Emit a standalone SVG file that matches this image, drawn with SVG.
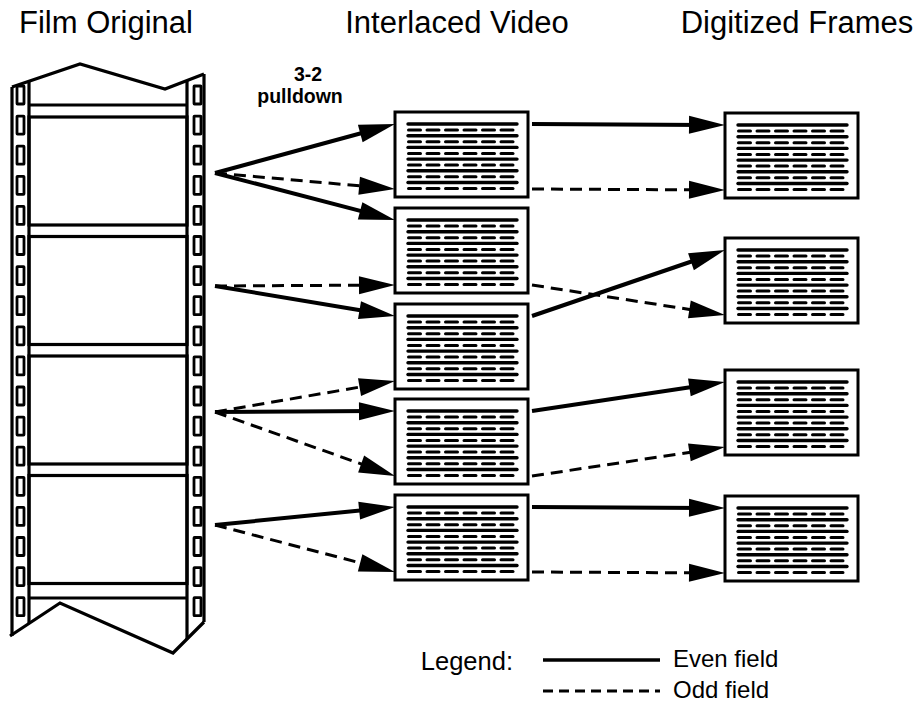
<svg xmlns="http://www.w3.org/2000/svg" xmlns:xlink="http://www.w3.org/1999/xlink" width="920" height="704" viewBox="0 0 920 704">
<style>
text{font-family:"Liberation Sans",Arial,sans-serif;fill:#000}
.title{font-size:31px;text-anchor:middle}
.lbl{font-size:19.5px;font-weight:bold;text-anchor:middle}
.leg{font-size:24px}
.strip{fill:none;stroke:#000;stroke-width:3.2;stroke-linejoin:miter}
.hole{fill:#fff;stroke:#000;stroke-width:2.8}
.even{fill:none;stroke:#000;stroke-width:4}
.odd{fill:none;stroke:#000;stroke-width:3;stroke-dasharray:12 7}
.scr{fill:#fff;stroke:#000;stroke-width:3}
.sl{stroke:#000;stroke-width:3.4;stroke-linecap:round}
.dl{stroke:#000;stroke-width:3;stroke-linecap:round;stroke-dasharray:12 6.5}
</style>
<defs>
<marker id="ah" markerUnits="userSpaceOnUse" markerWidth="36" markerHeight="18" refX="16" refY="9" orient="auto" overflow="visible">
<path d="M0,0 L36,9 L0,18 Z" fill="#000"/>
</marker>
<g id="screen">
<rect class="scr" x="0" y="0" width="133" height="85"/>
<g>
<line class="sl" x1="13" y1="12" x2="122" y2="12"/>
<line class="dl" x1="13.5" y1="18" x2="123" y2="18"/>
<line class="sl" x1="13" y1="23.7" x2="122" y2="23.7"/>
<line class="dl" x1="13.5" y1="29.7" x2="123" y2="29.7"/>
<line class="sl" x1="13" y1="35.4" x2="122" y2="35.4"/>
<line class="dl" x1="13.5" y1="41.4" x2="123" y2="41.4"/>
<line class="sl" x1="13" y1="47.1" x2="122" y2="47.1"/>
<line class="dl" x1="13.5" y1="53.1" x2="123" y2="53.1"/>
<line class="sl" x1="13" y1="58.8" x2="122" y2="58.8"/>
<line class="dl" x1="13.5" y1="64.8" x2="123" y2="64.8"/>
<line class="sl" x1="13" y1="70.5" x2="122" y2="70.5"/>
<line class="dl" x1="13.5" y1="76.5" x2="123" y2="76.5"/>
</g>
</g>
<rect id="hole" class="hole" width="7" height="18" rx="0.5"/>
</defs>
<rect width="920" height="704" fill="#fff"/>

<g id="titles">
<text class="title" x="106" y="33">Film Original</text>
<text class="title" x="457" y="33">Interlaced Video</text>
<text class="title" x="797" y="33">Digitized Frames</text>
<text class="lbl" x="308" y="81">3-2</text>
<text class="lbl" x="300" y="103">pulldown</text>
</g>

<g id="film-strip">
<path class="strip" d="M12,87 L80,64 L165,89 L204,74"/>
<path class="strip" d="M10,636 L60,603 L173,653 L204,622"/>
<path class="strip" d="M12,87 V636 M204,74 V622 M29,81.5 V623.5 M187,80.5 V639"/>
<path class="strip" d="M29,105 H187 M29,598 H187"/>
<g id="film-frame-1"><rect class="strip" x="29" y="117" width="158" height="108"/></g>
<g id="film-frame-2"><rect class="strip" x="29" y="236.5" width="158" height="108"/></g>
<g id="film-frame-3"><rect class="strip" x="29" y="356" width="158" height="108"/></g>
<g id="film-frame-4"><rect class="strip" x="29" y="475.5" width="158" height="108"/></g>
<g id="sprockets">
<use href="#hole" x="17" y="86"/><use href="#hole" x="194" y="86"/>
<use href="#hole" x="17" y="116.1"/><use href="#hole" x="194" y="116.1"/>
<use href="#hole" x="17" y="146.2"/><use href="#hole" x="194" y="146.2"/>
<use href="#hole" x="17" y="176.3"/><use href="#hole" x="194" y="176.3"/>
<use href="#hole" x="17" y="206.4"/><use href="#hole" x="194" y="206.4"/>
<use href="#hole" x="17" y="236.5"/><use href="#hole" x="194" y="236.5"/>
<use href="#hole" x="17" y="266.6"/><use href="#hole" x="194" y="266.6"/>
<use href="#hole" x="17" y="296.7"/><use href="#hole" x="194" y="296.7"/>
<use href="#hole" x="17" y="326.8"/><use href="#hole" x="194" y="326.8"/>
<use href="#hole" x="17" y="356.9"/><use href="#hole" x="194" y="356.9"/>
<use href="#hole" x="17" y="387"/><use href="#hole" x="194" y="387"/>
<use href="#hole" x="17" y="417.1"/><use href="#hole" x="194" y="417.1"/>
<use href="#hole" x="17" y="447.2"/><use href="#hole" x="194" y="447.2"/>
<use href="#hole" x="17" y="477.3"/><use href="#hole" x="194" y="477.3"/>
<use href="#hole" x="17" y="507.4"/><use href="#hole" x="194" y="507.4"/>
<use href="#hole" x="17" y="537.5"/><use href="#hole" x="194" y="537.5"/>
<use href="#hole" x="17" y="567.6"/><use href="#hole" x="194" y="567.6"/>
<use href="#hole" x="17" y="597.7"/><use href="#hole" x="194" y="597.7"/>
</g>
</g>

<g id="video-1"><use href="#screen" x="395" y="112"/></g>
<g id="video-2"><use href="#screen" x="395" y="208"/></g>
<g id="video-3"><use href="#screen" x="395" y="304"/></g>
<g id="video-4"><use href="#screen" x="395" y="399"/></g>
<g id="video-5"><use href="#screen" x="395" y="495"/></g>

<g id="digital-1"><use href="#screen" x="725" y="113"/></g>
<g id="digital-2"><use href="#screen" x="725" y="238"/></g>
<g id="digital-3"><use href="#screen" x="725" y="370"/></g>
<g id="digital-4"><use href="#screen" x="725" y="496"/></g>

<g id="connectors">
<line class="even" x1="215" y1="173" x2="375.7" y2="129.3" marker-end="url(#ah)"/>
<line class="odd" x1="215" y1="173" x2="375.1" y2="187.2" marker-end="url(#ah)"/>
<line class="even" x1="215" y1="173" x2="375.6" y2="214.9" marker-end="url(#ah)"/>
<line class="odd" x1="215" y1="286" x2="375" y2="285.1" marker-end="url(#ah)"/>
<line class="even" x1="215" y1="286" x2="375.3" y2="312.7" marker-end="url(#ah)"/>
<line class="odd" x1="215" y1="412" x2="375.3" y2="384.4" marker-end="url(#ah)"/>
<line class="even" x1="215" y1="412" x2="375" y2="411.1" marker-end="url(#ah)"/>
<line class="odd" x1="215" y1="412" x2="376.2" y2="469.3" marker-end="url(#ah)"/>
<line class="even" x1="215" y1="525" x2="375.1" y2="509" marker-end="url(#ah)"/>
<line class="odd" x1="215" y1="525" x2="375.6" y2="566.9" marker-end="url(#ah)"/>
<line class="even" x1="532" y1="124" x2="705" y2="124.9" marker-end="url(#ah)"/>
<line class="odd" x1="532" y1="189" x2="705" y2="189.9" marker-end="url(#ah)"/>
<line class="odd" x1="532" y1="285" x2="705.2" y2="311.9" marker-end="url(#ah)"/>
<line class="even" x1="532" y1="316" x2="706.1" y2="256.5" marker-end="url(#ah)"/>
<line class="even" x1="532" y1="411" x2="705.2" y2="385" marker-end="url(#ah)"/>
<line class="odd" x1="532" y1="476" x2="705.2" y2="450" marker-end="url(#ah)"/>
<line class="even" x1="532" y1="507" x2="705" y2="507.9" marker-end="url(#ah)"/>
<line class="odd" x1="532" y1="572" x2="705" y2="572.9" marker-end="url(#ah)"/>
</g>

<g id="legend">
<text class="leg" x="513" y="670" text-anchor="end" style="font-size:25.5px">Legend:</text>
<line x1="543" y1="660" x2="660" y2="660" stroke="#000" stroke-width="3.5"/>
<line x1="543" y1="691" x2="660" y2="691" stroke="#000" stroke-width="3" stroke-dasharray="10 6"/>
<text class="leg" x="673" y="667">Even field</text>
<text class="leg" x="673" y="698">Odd field</text>
</g>
</svg>
